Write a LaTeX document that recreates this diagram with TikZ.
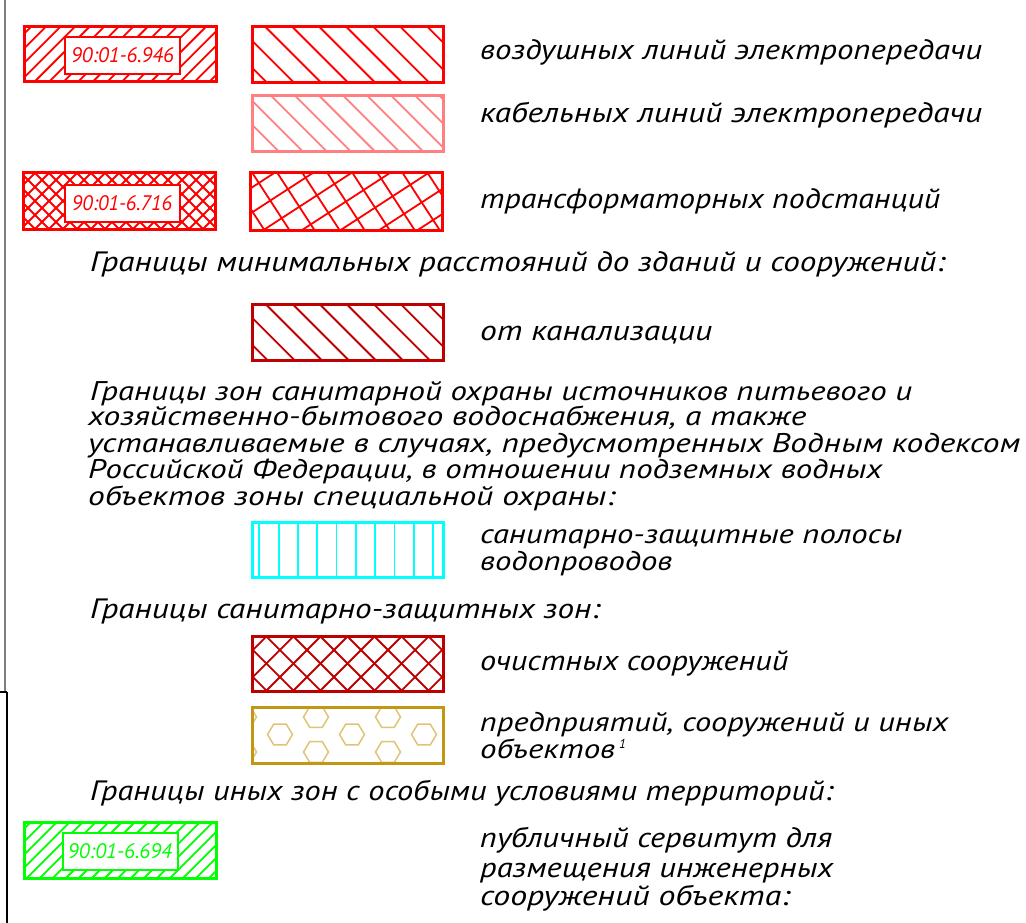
\documentclass[tikz,border=0pt]{standalone}
\usepackage{fontspec}
\usepackage{graphicx}
\setmainfont{PT Sans}
\definecolor{cRed}{RGB}{255,0,0}
\definecolor{cPink}{RGB}{255,128,128}
\definecolor{cDark}{RGB}{190,0,0}
\definecolor{cCyan}{RGB}{0,255,255}
\definecolor{cGold}{RGB}{195,150,20}
\definecolor{cHex}{RGB}{225,195,120}
\definecolor{cGreen}{RGB}{0,255,0}
\definecolor{cBorder}{RGB}{128,128,128}
\newcommand\fw[2]{\resizebox{#1pt}{\height}{#2}}
\newcommand\hatchfill[7]{%
  \begin{scope}
    \clip (#1,#2) rectangle (#3,#4);
    \pgfmathsetmacro\hcx{(#1+#3)/2}
    \pgfmathsetmacro\hcy{(#2+#4)/2}
    \foreach \k in {-18,...,18}{
      \draw[hatchline,#7,rotate around={#5:(\hcx,\hcy)}]
        (\hcx-160,\hcy+\k*#6) -- (\hcx+160,\hcy+\k*#6);
    }
  \end{scope}}
\begin{document}
\begin{tikzpicture}[x=1pt,y=-1pt,
  frame/.style={line width=3pt},
  hatchline/.style={line width=1.8pt},
  lblbox/.style={draw,fill=white,line width=2pt,inner sep=0pt,minimum width=115pt,minimum height=37pt,
    font=\fontsize{21}{21}\selectfont\itshape},
  txt/.style={inner sep=0pt,anchor=base west,font=\fontsize{28}{30}\selectfont\itshape},
  ptxt/.style={inner sep=0pt,anchor=base west,font=\fontsize{27}{28}\selectfont\itshape},
  hexa/.style={draw=cHex,line width=1.5pt}]
\useasboundingbox (0,0) rectangle (1026,923);

% left border
\draw[cBorder,line width=2pt] (4.5,0) -- (4.5,692);
\draw[black,line width=2pt] (0,692) -- (6.5,692);
\draw[black,line width=2pt] (6.5,692) -- (6.5,923);

% row 1: overhead lines
\hatchfill{24}{27}{216}{82}{45}{10.3}{cRed}
\draw[frame,cRed] (24,27) rectangle (216,82);
\node[lblbox,draw=cRed,text=cRed] (l1) at (122.5,55.5) {\fw{103}{90:01-6.946}};
\hatchfill{252}{27}{443}{83}{-45}{19.1}{cRed}
\draw[frame,cRed] (252,27) rectangle (443,83);
\node[txt] (t1) at (480,60) {\fw{502}{воздушных линий электропередачи}};

% row 2: cable lines
\hatchfill{252}{96}{443}{152}{-45}{17}{cPink}
\draw[frame,cPink] (252,96) rectangle (443,152);
\node[txt] (t2) at (480,123) {\fw{502}{кабельных линий электропередачи}};

% row 3: substations
\hatchfill{23}{173}{215}{229}{45}{9.9}{cRed}
\hatchfill{23}{173}{215}{229}{-45}{9.9}{cRed}
\draw[frame,cRed] (23,173) rectangle (215,229);
\node[lblbox,draw=cRed,text=cRed] (l2) at (122,203.5) {\fw{100}{90:01-6.716}};
\hatchfill{250}{173}{442}{230}{33}{21}{cRed}
\hatchfill{250}{173}{442}{230}{-57}{21}{cRed}
\draw[frame,cRed] (250,173) rectangle (442,230);
\node[txt] (t3) at (480,208) {\fw{460}{трансформаторных подстанций}};

\node[txt] (h1) at (90,272) {\fw{855}{Границы минимальных расстояний до зданий и сооружений:}};

% sewer
\hatchfill{252}{304}{443}{360}{-45}{19.1}{cDark}
\draw[frame,cDark] (252,304) rectangle (443,360);
\node[txt] (t4) at (480,340) {\fw{232}{от канализации}};

% paragraph
\node[ptxt] (p1) at (90,400) {\fw{822}{Границы зон санитарной охраны источников питьевого и}};
\node[ptxt] (p2) at (88,425) {\fw{718}{хозяйственно-бытового водоснабжения, а также}};
\node[ptxt] (p3) at (88,452) {\fw{932}{устанавливаемые в случаях, предусмотренных Водным кодексом}};
\node[ptxt] (p4) at (88,478) {\fw{794}{Российской Федерации, в отношении подземных водных}};
\node[ptxt] (p5) at (88,505) {\fw{527}{объектов зоны специальной охраны:}};

% cyan
\begin{scope}
  \clip (252,522) rectangle (443,577);
  \foreach \i in {0,...,9}{\draw[hatchline,cCyan] (259.3+\i*19.3,520) -- (259.3+\i*19.3,580);}
\end{scope}
\draw[frame,cCyan] (252,522) rectangle (443,577);
\node[ptxt] (t5) at (480,543) {\fw{422}{санитарно-защитные полосы}};
\node[ptxt] (t6) at (480,570) {\fw{192}{водопроводов}};

\node[txt] (h2) at (90,618) {\fw{510}{Границы санитарно-защитных зон:}};

% treatment
\hatchfill{252}{636}{443}{691}{45}{19.1}{cDark}
\hatchfill{252}{636}{443}{691}{-45}{19.1}{cDark}
\draw[frame,cDark] (252,636) rectangle (443,691);
\node[txt] (t7) at (480,670) {\fw{308}{очистных сооружений}};

% enterprises (hexagons)
\begin{scope}
  \clip (252,707) rectangle (443,763);
  \foreach \hx/\hy in {244/717,316/717,388/717,280/734.5,352/734.5,424/734.5,244/752,316/752,388/752}{
    \draw[hexa] (\hx+12.5,\hy) -- (\hx+6.25,\hy-10.4) -- (\hx-6.25,\hy-10.4) -- (\hx-12.5,\hy)
      -- (\hx-6.25,\hy+10.4) -- (\hx+6.25,\hy+10.4) -- cycle;
  }
\end{scope}
\draw[frame,cGold] (252,707) rectangle (443,763);
\node[ptxt] (t8) at (480,731) {\fw{468}{предприятий, сооружений и иных}};
\node[ptxt] (t9) at (480,758) {\fw{135}{объектов}};
\node[inner sep=0pt,anchor=base west,font=\fontsize{13}{13}\selectfont\itshape] (s1) at (619,748) {1};

\node[txt] (h3) at (90,800) {\fw{743}{Границы иных зон с особыми условиями территорий:}};

% servitude
\hatchfill{24}{822}{216}{878}{45}{9.2}{cGreen}
\draw[frame,cGreen] (24,822) rectangle (216,878);
\node[lblbox,draw=cGreen,text=cGreen] (l3) at (120,851) {\fw{104}{90:01-6.694}};
\node[txt] (t10) at (480,847) {\fw{352}{публичный сервитут для}};
\node[txt] (t11) at (480,877) {\fw{353}{размещения инженерных}};
\node[txt] (t12) at (480,905) {\fw{310}{сооружений объекта:}};
\end{tikzpicture}
\end{document}
